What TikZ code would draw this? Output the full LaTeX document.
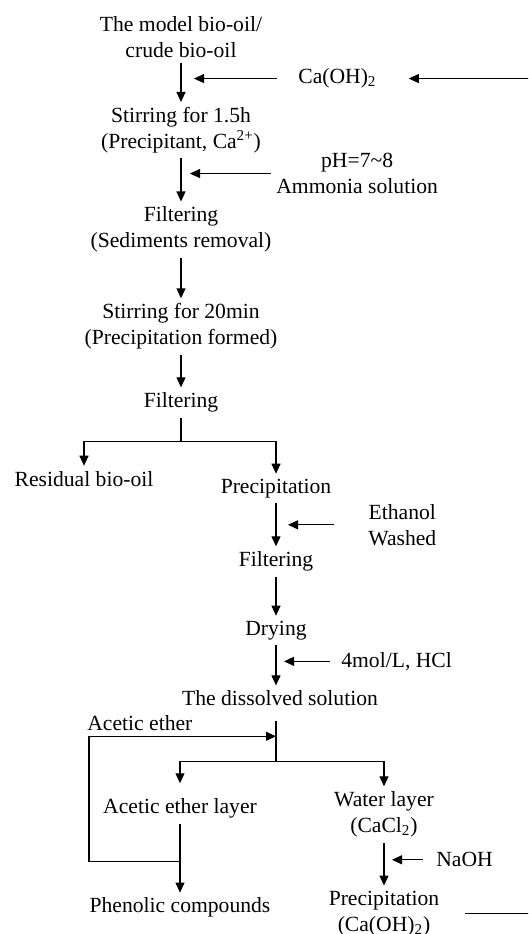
\documentclass[tikz,border=0pt]{standalone}
\usepackage{fontspec}
\setmainfont{Liberation Serif}
\usetikzlibrary{positioning,arrows.meta,calc}
\tikzstyle{proc}=[inner sep=1mm, align=center, font=\fontsize{12.3}{14.8}\selectfont]
\tikzstyle{note}=[proc]
\tikzstyle{line}=[-, line width=0.6pt]
\tikzstyle{dline}=[-{Triangle[length=2mm,width=1.8mm]}, line width=0.6pt]

\begin{document}
\begin{tikzpicture}[node distance=0mm]
    \useasboundingbox (0,0) rectangle (105.6mm,-186.8mm);
    \clip (0,0) rectangle (105.6mm,-186.8mm);

	\node (model) [proc] at (36.2mm,-7.4mm) {The model bio-oil/\\crude bio-oil};
    \node (stir1) [proc, below=7.8mm of model] {Stirring for 1.5h\\(Precipitant, Ca\textsuperscript{2+})};
    \node (filt1) [proc, below=8.6mm of stir1] {Filtering\\(Sediments removal)};
    \node (stir2) [proc, below=8.1mm of filt1] {Stirring for 20min\\(Precipitation formed)};
    \node (filt2) [proc, below=6.5mm of stir2] {Filtering};

    \node (resid) [proc, below=9.6mm of filt2, xshift=-19.4mm] {Residual bio-oil};
    \node (prec1) [proc, below=11.2mm of filt2, xshift=19mm] {Precipitation};
    \node (filt3) [proc, below=8.6mm of prec1] {Filtering};
    \node (dry)   [proc, below=7.8mm of filt3] {Drying};
    \node (diss)  [proc, below=8mm of dry, xshift=0.8mm] {The dissolved solution};

    \node (alay)  [proc, below=16.4mm of diss, xshift=-20mm] {Acetic ether layer};
    \node (wlay)  [proc, below=15mm of diss, xshift=20.8mm] {Water layer\\(CaCl\textsubscript{2})};
    \node (phen)  [proc, below=13.8mm of alay] {Phenolic compounds};
    \node (prec2) [proc, below=8.6mm of wlay] {Precipitation\\(Ca(OH)\textsubscript{2})};
%  reagents
    \coordinate (m1) at ($(model.south)!0.4!(stir1.north)$);
    \coordinate (m2) at ($(stir1.south)!0.35!(filt1.north)$);
    \coordinate (m3) at ($(prec1.south)!0.5!(filt3.north)$);
    \coordinate (m4) at ($(dry.south)!0.4!(diss.north -| dry.south)$);
    \coordinate (m5) at ($(wlay.south)!0.4!(prec2.north)$);

    \node (caoh) [note, right=22.4mm of m1] {Ca(OH)\textsubscript{2}};
    \node (ammo) [note, right=18mm of m2] {pH=7\textasciitilde8\\Ammonia solution};
    \node (etoh) [note, right=17.4mm of m3] {Ethanol\\Washed};
    \node (hcl)  [note, right=12mm of m4] {4mol/L, HCl};
    \node (naoh) [note, right=9.4mm of m5] {NaOH};

   \draw[dline] (model.south) to (stir1.north);
   \draw[dline] (stir1.south) to (filt1.north);
   \draw[dline] (filt1.south) to (stir2.north);
   \draw[dline] (stir2.south) to (filt2.north);

   \draw[dline] ([xshift=-3.2mm]caoh.west) -- ([xshift=2.6mm]m1);
   \draw[dline] (ammo.west) -- ([xshift=1.8mm]m2);
   \draw[dline] ([xshift=-5.8mm]etoh.west) -- ([xshift=2.4mm]m3);
   \draw[dline] ([xshift=-1.2mm]hcl.west) -- ([xshift=1.6mm]m4);
   \draw[dline] ([xshift=-1.6mm]naoh.west) -- ([xshift=1.6mm]m5);
%split after filtering
   \coordinate (b1) at ($(filt2.south)+(0,-4.8mm)$);
   \draw[line] (filt2.south) -- (b1);
   \draw[dline] (b1) -| (resid.north);
   \draw[dline] (b1) -| (prec1.north);

   \draw[dline] (prec1.south) to (filt3.north);
   \draw[dline] (filt3.south) to (dry.north);
   \draw[dline] (dry.south) -- (diss.north -| dry.south);
%extraction
   \coordinate (b2a) at ($(diss.south -| dry.south)+(0,-2mm)$);
   \coordinate (aein) at ($(diss.south -| dry.south)+(0,-5mm)$);
   \coordinate (b2) at ($(diss.south -| dry.south)+(0,-10mm)$);
   \draw[line] (b2a) -- (b2);
   \draw[dline, shorten >=2mm] (b2) -| (alay.north);
   \draw[dline] (b2) -| (wlay.north);

   \draw[dline] (alay.south) to (phen.north);
   \draw[dline] (wlay.south) to (prec2.north);

   \coordinate (rloop) at ($(alay.south)!0.55!(phen.north)$);
   \coordinate (lcorner) at ($(alay.south |- aein)+(-18.2mm,0)$);
   \draw[dline] (rloop) -| (lcorner) -- (aein);
   \node (aeth) [note, above right=0mm and -1.4mm of lcorner] {Acetic ether};
%recycle
   \coordinate (redge) at (108mm,0);
   \draw[dline] ([xshift=4mm]prec2.east) -- (prec2.east -| redge) |- ([xshift=5.4mm]caoh.east);

\end{tikzpicture}
\end{document}
